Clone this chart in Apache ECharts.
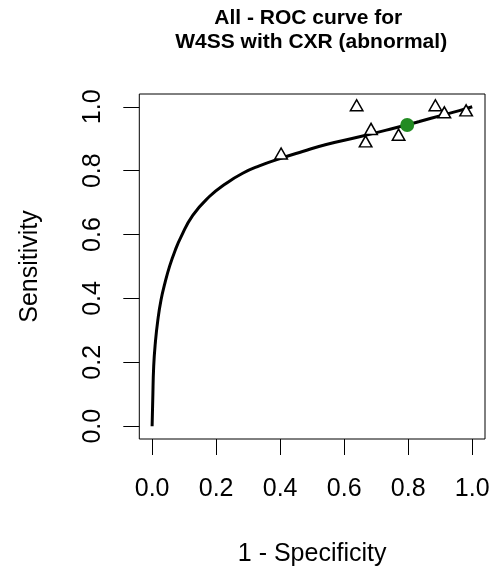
<!DOCTYPE html>
<html>
<head>
<meta charset="utf-8">
<script src="https://cdn.jsdelivr.net/npm/echarts@6/dist/echarts.min.js"></script>
<style>
html,body{margin:0;padding:0;background:#fff;}
#chart{width:495px;height:572px;}
</style>
</head>
<body>
<div id="chart"></div>
<script>
// Tick values
var tickValues = [0, 0.2, 0.4, 0.6, 0.8, 1.0];
// Title lines
var titleLines = ['All - ROC curve for', 'W4SS with CXR (abnormal)'];
// Summary ROC curve (1 - specificity, sensitivity)
var curveFpr  = [0, 0.002, 0.005, 0.010, 0.018, 0.028, 0.040, 0.055, 0.072, 0.090, 0.127, 0.179, 0.231, 0.283, 0.335, 0.400, 0.470, 0.544, 0.648, 0.752, 0.835, 0.908, 0.960, 1.0];
var curveSens = [0, 0.083, 0.188, 0.260, 0.333, 0.396, 0.448, 0.502, 0.550, 0.592, 0.660, 0.719, 0.760, 0.792, 0.815, 0.838, 0.860, 0.882, 0.906, 0.932, 0.954, 0.974, 0.988, 1.0];
// Individual studies
var studyFpr  = [0.403, 0.639, 0.684, 0.667, 0.770, 0.885, 0.913, 0.981];
var studySens = [0.848, 0.999, 0.925, 0.886, 0.907, 0.999, 0.977, 0.983];
// Summary point
var summaryFpr = [0.797];
var summarySens = [0.943];

function zip(a, b) { return a.map(function (v, i) { return [v, b[i]]; }); }

var font = 'Liberation Sans, Arial, sans-serif';
var chart = echarts.init(document.getElementById('chart'), null, {renderer: 'canvas'});
var titleStyle = {fontFamily: font, fontSize: 21, fontWeight: 'bold', color: '#000', lineHeight: 24};
chart.setOption({
  animation: false,
  backgroundColor: '#ffffff',
  title: [
    {text: titleLines[0], left: 308.3, top: 6, textAlign: 'center', padding: 0, textStyle: titleStyle},
    {text: titleLines[1], left: 311.2, top: 30.3, textAlign: 'center', padding: 0, textStyle: titleStyle}
  ],
  grid: {
    left: 139.3, right: 10, top: 94, bottom: 133,
    show: true, borderColor: '#000', borderWidth: 1, backgroundColor: 'transparent'
  },
  xAxis: {
    type: 'value', min: -0.04, max: 1.04,
    name: '1 - Specificity', nameLocation: 'middle', nameGap: 103,
    nameTextStyle: {fontFamily: font, fontSize: 25, color: '#000'},
    splitLine: {show: false},
    axisLine: {show: false, onZero: false},
    axisTick: {show: true, inside: false, length: 16, customValues: tickValues, lineStyle: {color: '#000', width: 1}},
    axisLabel: {customValues: tickValues, margin: 38, fontFamily: font, fontSize: 25, color: '#000',
      formatter: function (v) { return v.toFixed(1); }}
  },
  yAxis: {
    type: 'value', min: -0.04, max: 1.04,
    name: 'Sensitivity', nameLocation: 'middle', nameGap: 97, nameRotate: 90,
    nameTextStyle: {fontFamily: font, fontSize: 25, color: '#000'},
    splitLine: {show: false},
    axisLine: {show: false, onZero: false},
    axisTick: {show: true, inside: false, length: 16, customValues: tickValues, lineStyle: {color: '#000', width: 1}},
    axisLabel: {customValues: tickValues, margin: 34, rotate: 90, fontFamily: font, fontSize: 25, color: '#000',
      formatter: function (v) { return v.toFixed(1); }}
  },
  series: [
    {
      type: 'line', data: zip(curveFpr, curveSens), smooth: 0.5,
      showSymbol: false, symbol: 'none',
      lineStyle: {color: '#000', width: 3}, z: 2
    },
    {
      type: 'scatter', data: zip(studyFpr, studySens),
      symbol: 'triangle', symbolSize: [12.5, 11], symbolOffset: [0, -1.8],
      itemStyle: {color: '#fff', borderColor: '#000', borderWidth: 1.5, opacity: 1}, z: 3
    },
    {
      type: 'scatter', data: zip(summaryFpr, summarySens),
      symbol: 'circle', symbolSize: 14,
      itemStyle: {color: '#228B22', opacity: 1}, z: 4
    }
  ]
});
</script>
</body>
</html>
